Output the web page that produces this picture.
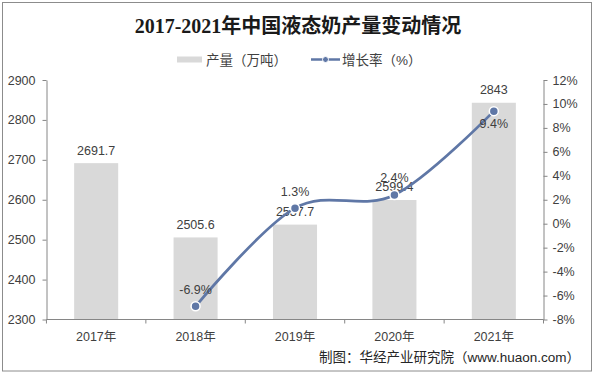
<!DOCTYPE html>
<html>
<head>
<meta charset="utf-8">
<script src="https://cdn.jsdelivr.net/npm/d3@7"></script>
<style>
  html, body { margin: 0; padding: 0; background: #fff; }
</style>
</head>
<body>
<div id="chart"></div>
<script>
//
const categories = ["2017年", "2018年", "2019年", "2020年", "2021年"];
const output = [2691.7, 2505.6, 2537.7, 2599.4, 2843];
const growth = [null, -6.9, 1.3, 2.4, 9.4];
const growthLabelBelow = [false, false, false, false, true];
const leftTicks = [2300, 2400, 2500, 2600, 2700, 2800, 2900];
const rightTicks = [-8, -6, -4, -2, 0, 2, 4, 6, 8, 10, 12];

//
const w = 595;
const h = 374;
const margin = { top: 80, right: 51.5, bottom: 54.5, left: 46.5 };
const barColor = "#d9d9d9";
const lineColor = "#5f77a6";
const textColor = "#404040";
const axisColor = "#868686";
const numFont = "'Liberation Sans', Arial, 'Noto Sans CJK SC', sans-serif";
const cjkFont = "'Liberation Sans', 'Noto Sans CJK SC', sans-serif";

const svg = d3
  .select("#chart")
  .append("svg")
  .attr("width", w)
  .attr("height", h)
  .attr("viewBox", [0, 0, w, h]);

// frame
svg
  .append("rect")
  .attr("x", 2.5)
  .attr("y", 2.5)
  .attr("width", 589)
  .attr("height", 368.5)
  .attr("fill", "#fff")
  .attr("stroke", "#8c8c8c")
  .attr("stroke-width", 1);

//
const x = d3
  .scaleBand()
  .domain(categories)
  .range([margin.left, w - margin.right])
  .paddingInner(0.557)
  .paddingOuter(0.278);
const y = d3
  .scaleLinear()
  .domain([2300, 2900])
  .range([h - margin.bottom, margin.top]);
const y2 = d3
  .scaleLinear()
  .domain([-8, 12])
  .range([h - margin.bottom, margin.top]);

// title
svg
  .append("text")
  .attr("x", 298)
  .attr("y", 33)
  .attr("text-anchor", "middle")
  .attr("font-family", "'Liberation Serif', 'Noto Sans CJK SC', serif")
  .attr("font-weight", "bold")
  .attr("font-size", 20)
  .attr("fill", "#1a1a1a")
  .text("2017-2021年中国液态奶产量变动情况");

// legend
const legend = svg.append("g").attr("class", "legend");
legend
  .append("rect")
  .attr("x", 177)
  .attr("y", 56.5)
  .attr("width", 25)
  .attr("height", 6)
  .attr("fill", barColor);
legend
  .append("text")
  .attr("x", 206)
  .attr("y", 64.5)
  .attr("font-family", cjkFont)
  .attr("font-size", 13.5)
  .attr("fill", textColor)
  .text("产量（万吨）");
legend
  .append("line")
  .attr("x1", 311)
  .attr("x2", 340)
  .attr("y1", 59.5)
  .attr("y2", 59.5)
  .attr("stroke", lineColor)
  .attr("stroke-width", 2.5);
legend
  .append("circle")
  .attr("cx", 325.5)
  .attr("cy", 59.5)
  .attr("r", 3)
  .attr("fill", lineColor)
  .attr("stroke", "#fff")
  .attr("stroke-width", 1);
legend
  .append("text")
  .attr("x", 342)
  .attr("y", 64.5)
  .attr("font-family", cjkFont)
  .attr("font-size", 13.5)
  .attr("fill", textColor)
  .text("增长率（%）");

// bars
svg
  .append("g")
  .attr("class", "bars")
  .selectAll("rect")
  .data(output)
  .enter()
  .append("rect")
  .attr("x", (d, i) => x(categories[i]))
  .attr("y", (d) => y(d))
  .attr("width", x.bandwidth())
  .attr("height", (d) => y(2300) - y(d))
  .attr("fill", barColor);

// axes
const styleAxis = (g) => {
  g.select(".domain").attr("stroke", axisColor);
  g.selectAll(".tick line").attr("stroke", axisColor);
  g.selectAll(".tick text")
    .attr("fill", textColor)
    .attr("font-family", numFont)
    .attr("font-size", 12.5);
};

svg
  .append("g")
  .attr("class", "ay")
  .attr("transform", `translate(${margin.left},0)`)
  .call(
    d3
      .axisLeft(y)
      .tickValues(leftTicks)
      .tickSize(4)
      .tickSizeOuter(0)
      .tickPadding(7)
      .tickFormat((d) => String(d))
  )
  .call(styleAxis);

svg
  .append("g")
  .attr("class", "ay2")
  .attr("transform", `translate(${w - margin.right},0)`)
  .call(
    d3
      .axisRight(y2)
      .tickValues(rightTicks)
      .tickSize(4)
      .tickSizeOuter(0)
      .tickPadding(5)
      .tickFormat((d) => String(d) + "%")
  )
  .call(styleAxis);

// x axis: ticks on band boundaries
const bounds = categories.map((c) => x(c) - (x.step() * x.paddingInner()) / 2);
bounds.push(w - margin.right);
const ax = svg
  .append("g")
  .attr("class", "ax")
  .attr("transform", `translate(0,${h - margin.bottom})`);
ax.append("line")
  .attr("x1", margin.left)
  .attr("x2", w - margin.right)
  .attr("stroke", axisColor);
ax.selectAll(".tk")
  .data(bounds)
  .enter()
  .append("line")
  .attr("class", "tk")
  .attr("x1", (d) => d)
  .attr("x2", (d) => d)
  .attr("y1", 0)
  .attr("y2", 4)
  .attr("stroke", axisColor);
ax.selectAll("text")
  .data(categories)
  .enter()
  .append("text")
  .attr("x", (d) => x(d) + x.bandwidth() / 2)
  .attr("y", 21)
  .attr("text-anchor", "middle")
  .attr("font-family", cjkFont)
  .attr("font-size", 12.5)
  .attr("fill", textColor)
  .text((d) => d);

// bar labels
svg
  .append("g")
  .attr("class", "bar-labels")
  .selectAll("text")
  .data(output)
  .enter()
  .append("text")
  .attr("x", (d, i) => x(categories[i]) + x.bandwidth() / 2)
  .attr("y", (d) => y(d) - 8.5)
  .attr("text-anchor", "middle")
  .attr("font-family", numFont)
  .attr("font-size", 12.5)
  .attr("fill", textColor)
  .text((d) => d);

// growth line
const pts = growth
  .map((d, i) => ({ c: categories[i], v: d, below: growthLabelBelow[i] }))
  .filter((d) => d.v !== null);
const lineGenerator = d3
  .line()
  .curve(d3.curveCardinal.tension(0))
  .x((d) => x(d.c) + x.bandwidth() / 2)
  .y((d) => y2(d.v));

svg
  .append("path")
  .attr("d", lineGenerator(pts))
  .attr("fill", "none")
  .attr("stroke", lineColor)
  .attr("stroke-width", 2.75)
  .attr("stroke-linecap", "round");

svg
  .append("g")
  .attr("class", "points")
  .selectAll("circle")
  .data(pts)
  .enter()
  .append("circle")
  .attr("cx", (d) => x(d.c) + x.bandwidth() / 2)
  .attr("cy", (d) => y2(d.v))
  .attr("r", 4.5)
  .attr("fill", lineColor)
  .attr("stroke", "#fff")
  .attr("stroke-width", 1.5);

svg
  .append("g")
  .attr("class", "growth-labels")
  .selectAll("text")
  .data(pts)
  .enter()
  .append("text")
  .attr("x", (d) => x(d.c) + x.bandwidth() / 2)
  .attr("y", (d) => y2(d.v) + (d.below ? 16.5 : -12.5))
  .attr("text-anchor", "middle")
  .attr("font-family", numFont)
  .attr("font-size", 12.5)
  .attr("fill", textColor)
  .text((d) => d.v + "%");

// source
svg
  .append("text")
  .attr("x", 580)
  .attr("y", 361.5)
  .attr("text-anchor", "end")
  .attr("font-family", cjkFont)
  .attr("font-size", 13.5)
  .attr("fill", "#262626")
  .text("制图：华经产业研究院（www.huaon.com）");
</script>
</body>
</html>
